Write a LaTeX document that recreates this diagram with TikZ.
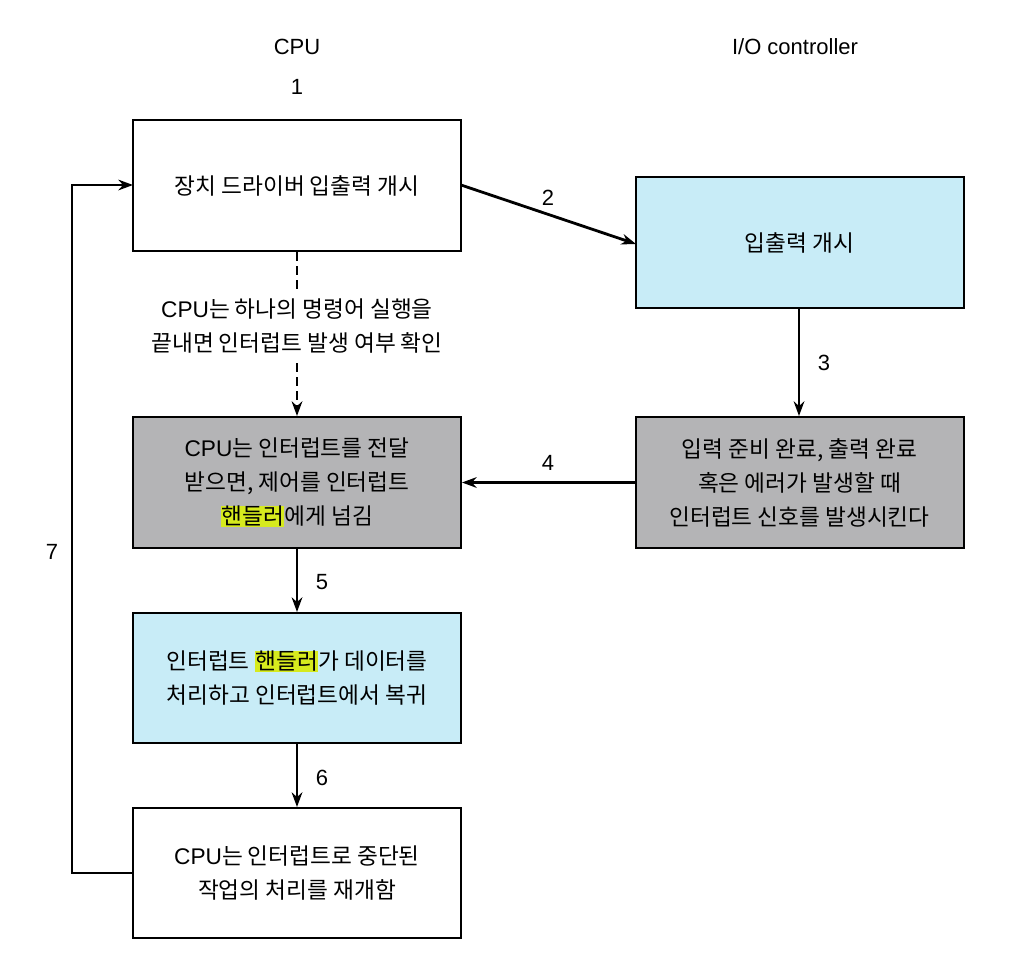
\documentclass[tikz,border=0pt]{standalone}
\usepackage{fontspec}
\setmainfont{Noto Sans CJK KR}
\newfontfamily\lat{Liberation Sans}
\usetikzlibrary{arrows.meta}
\definecolor{boxcyan}{HTML}{C8ECF7}
\definecolor{boxgray}{HTML}{B4B4B6}
\definecolor{hlyellow}{HTML}{D6EA1E}
\newcommand\hlt[1]{{\setlength\fboxsep{0.3pt}\colorbox{hlyellow}{#1}}}
\newcommand\cpu{{\lat CPU}}
\begin{document}
\begin{tikzpicture}[x=0.75pt,y=-0.75pt,
  box/.style={draw=black,line width=1.5pt,minimum width=328*0.75pt,align=center,
    font=\fontsize{17}{25.5}\selectfont,inner sep=0pt},
  lbl/.style={font=\lat\fontsize{16.5}{18}\selectfont,inner sep=1pt},
  conn/.style={line width=2.1pt,-{Stealth[length=11pt,width=8pt]}},
  dconn/.style={line width=2.1pt,dash pattern=on 7pt off 3.5pt}]
\useasboundingbox (0,0) rectangle (1028,964);
\fill[white] (0,0) rectangle (1028,964);
% titles
\node[lbl] (tcpu) at (297,47) {CPU};
\node[lbl] (tio) at (795,47) {I/O controller};
\node[lbl] (n1) at (297,87) {1};
% boxes
\node[box,minimum height=131*0.75pt] (A) at (297,185.5) {장치 드라이버 입출력 개시};
\node[box,fill=boxcyan,minimum height=131*0.75pt] (B) at (799.5,242.5) {입출력 개시};
\node[box,fill=boxgray,minimum height=131*0.75pt] (C) at (297,482.5)
  {\cpu 는 인터럽트를 전달\\받으면, 제어를 인터럽트\\\hlt{핸들러}에게 넘김};
\node[box,fill=boxgray,minimum height=131*0.75pt] (D) at (799.5,482.5)
  {입력 준비 완료, 출력 완료\\혹은 에러가 발생할 때\\인터럽트 신호를 발생시킨다};
\node[box,fill=boxcyan,minimum height=130*0.75pt] (E) at (297,678)
  {인터럽트 \hlt{핸들러}가 데이터를\\처리하고 인터럽트에서 복귀};
\node[box,minimum height=130*0.75pt] (F) at (297,873)
  {\cpu 는 인터럽트로 중단된\\작업의 처리를 재개함};
% note
\node[align=center,font=\fontsize{17}{25.5}\selectfont,inner sep=0pt] (note) at (297,326)
  {\cpu 는 하나의 명령어 실행을\\끝내면 인터럽트 발생 여부 확인};
% connectors
\coordinate (a2) at (461,185);
\coordinate (b2) at (636,244);
\draw[conn] (a2) -- (b2);
\node[lbl] (l2) at (548,198) {2};
\draw[dconn] (A.south) -- (297,293);
\draw[dconn,-{Stealth[length=11pt,width=8pt]}] (297,363) -- (C.north);
\draw[conn] (B.south -| 799,0) -- (D.north -| 799,0);
\node[lbl] (l3) at (824,363) {3};
\draw[conn] (D.west) -- (C.east);
\node[lbl] (l4) at (548,463) {4};
\draw[conn] (C.south) -- (E.north);
\node[lbl] (l5) at (322,582) {5};
\draw[conn] (E.south) -- (F.north);
\node[lbl] (l6) at (322,778) {6};
\coordinate (a7) at (133,185);
\draw[conn] (F.west) -| (72,185) -- (a7);
\node[lbl] (l7) at (52,552) {7};
\end{tikzpicture}
\end{document}
